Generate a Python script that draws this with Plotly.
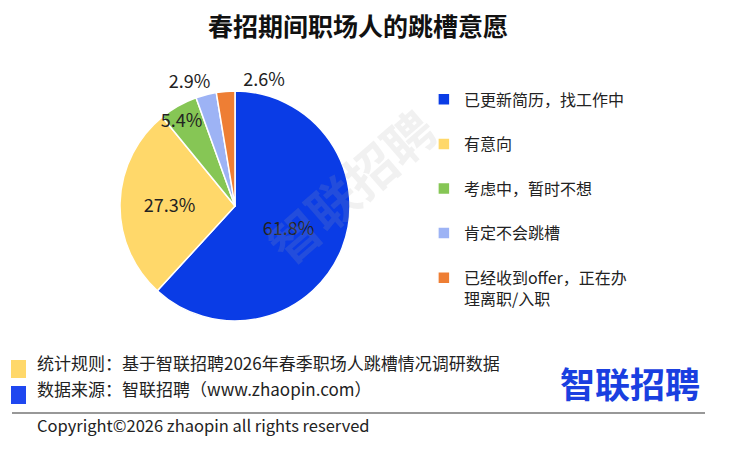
import plotly.graph_objects as go

# 跳槽意愿
labels = ["已更新简历，找工作中", "有意向", "考虑中，暂时不想", "肯定不会跳槽",
          "已经收到offer，正在办<br>理离职/入职"]
values = [61.8, 27.3, 5.4, 2.9, 2.6]
colors = ["#0A3CE6", "#FFD86A", "#86C655", "#9DB3F5", "#EE7E34"]

FONT = "Noto Sans CJK SC"
W, H = 740, 451
CX, CY, R = 227, 253, 115   # pie centre (px from left / bottom) and radius


def dom(r):
    return dict(x=[(CX - r) / W, (CX + r) / W], y=[(CY - r) / H, (CY + r) / H])


def px(x, y):
    # paper coords from px measured from the top-left
    return x / W, 1 - y / H


# legend entries get a blank second line so the items are spaced out like the original
legend_labels = [l if "<br>" in l else l + "<br> " for l in labels]
pct = ["%.1f%%" % v for v in values]

fig = go.Figure()
# main pie, with the two big labels inside
fig.add_trace(go.Pie(
    labels=legend_labels,
    values=values,
    sort=False,
    direction="clockwise",
    marker=dict(colors=colors, line=dict(color="white", width=1.5)),
    text=pct,
    textinfo="text",
    textposition=["inside", "inside", "none", "none", "none"],
    insidetextorientation="horizontal",
    textfont=dict(family=FONT, size=18, color="#222222"),
    domain=dom(R),
    hoverinfo="label+value",
))

# small slices: one label per transparent overlay so plotly does not stack them with leader lines
# (slice index, overlay radius, rotation)
small_labels = [(2, 80, 10.5), (3, R, 5.5), (4, R, 5.5)]
for i, r, rot in small_labels:
    tp = ["none"] * len(values)
    tp[i] = "outside"
    fig.add_trace(go.Pie(
        labels=legend_labels,
        values=values,
        sort=False,
        direction="clockwise",
        rotation=rot,
        marker=dict(colors=["rgba(0,0,0,0)"] * len(values), line=dict(width=0)),
        text=pct,
        textinfo="text",
        textposition=tp,
        textfont=dict(family=FONT, size=18, color="#222222"),
        domain=dom(r),
        showlegend=False,
        hoverinfo="skip",
    ))

tx, ty = px(350, 19)
fig.update_layout(
    width=W, height=H,
    margin=dict(l=0, r=0, t=0, b=0),
    paper_bgcolor="white",
    font=dict(family=FONT, color="#222222"),
    title=dict(text="<b>春招期间职场人的跳槽意愿</b>", x=tx, xanchor="center",
               y=ty, yanchor="middle", font=dict(size=25, color="#111111")),
    showlegend=True,
    legend=dict(x=0.562, y=0.835, xanchor="left", yanchor="top", valign="top",
                font=dict(size=16, color="#222222"), itemclick=False),
)

# watermark
wx, wy = px(342, 177)
fig.add_annotation(text="<b>智联招聘</b>", x=wx, y=wy, xref="paper", yref="paper",
                   showarrow=False, textangle=-41,
                   font=dict(family=FONT, size=50, color="rgba(170,170,170,0.16)"))

# footnotes
for y0, y1, c in [(352, 370, "#FFD86A"), (378, 396, "#1F47F0")]:
    fig.add_shape(type="rect", xref="paper", yref="paper",
                  x0=3 / W, x1=18 / W, y0=1 - y1 / H, y1=1 - y0 / H,
                  fillcolor=c, line_width=0)

notes = [("统计规则：基于智联招聘2026年春季职场人跳槽情况调研数据", 354, 17),
         ("数据来源：智联招聘（www.zhaopin.com）", 380, 17),
         ("Copyright©2026 zhaopin all rights reserved", 417, 16.5)]
for txt, y, size in notes:
    ax, ay = px(27, y)
    fig.add_annotation(text=txt, x=ax, y=ay, xref="paper", yref="paper",
                       xanchor="left", yanchor="middle", showarrow=False,
                       font=dict(size=size, color="#222222"))

lx, ly = px(622, 374)
fig.add_annotation(text="<b>智联招聘</b>", x=lx, y=ly,
                   xref="paper", yref="paper", xanchor="center", yanchor="middle",
                   showarrow=False, font=dict(size=35, color="#1A3FE0"))
fig.add_shape(type="line", xref="paper", yref="paper",
              x0=4 / W, x1=697 / W, y0=1 - 405 / H, y1=1 - 405 / H,
              line=dict(color="#333333", width=1.2))

fig.write_html("out.html")
